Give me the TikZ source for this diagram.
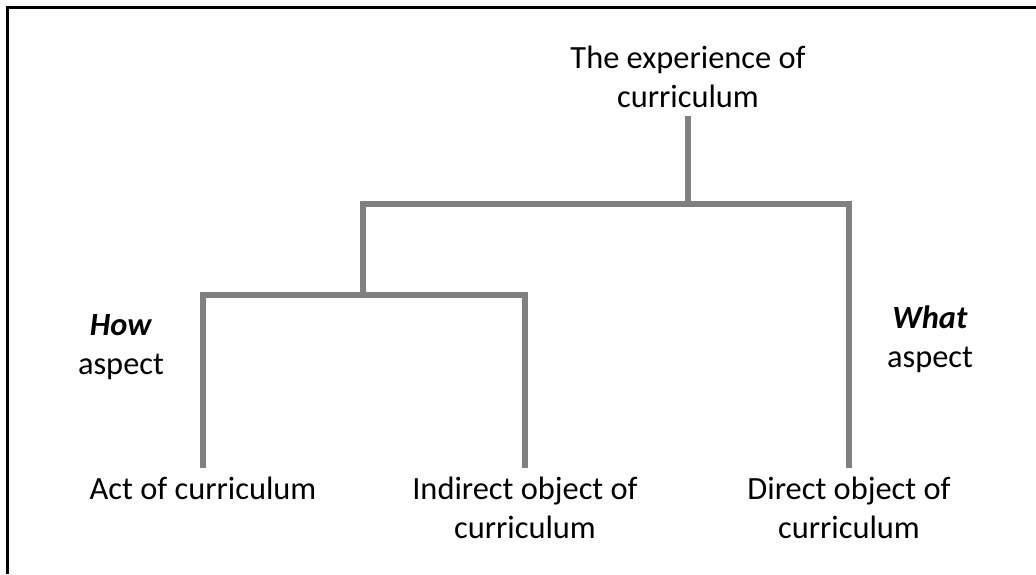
\documentclass[tikz,border=0pt]{standalone}
\usepackage{fontspec}
\setmainfont{Carlito}
\usepackage{tikz}
\usetikzlibrary{calc}

\begin{document}
\begin{tikzpicture}[line cap=butt,line join=miter,x=1pt,y=-1pt,
    lbl/.style={align=center, inner sep=0pt, outer sep=9pt, anchor=base, font=\fontsize{32.4}{39}\selectfont},
    branch/.style={draw=black!50, line width=5.5pt},
    frame/.style={draw=black, line width=2.5pt}]
    \useasboundingbox (0,0) rectangle (1036,574);
    \draw [frame] (7.7,574) -- (7.7,7.7) -- (1036,7.7);

    \node[lbl] (exp) at (688,107) {The experience of\\curriculum};
    \node[lbl] (act) at (203,499) {Act of curriculum};
    \node[lbl] (ind) at (525,538) {Indirect object of\\curriculum};
    \node[lbl] (dir) at (849,538) {Direct object of\\curriculum};

    \node[lbl] (how) at (121,374) {\textbf{\textit{How}}\\aspect};
    \node[lbl] (what) at (930,367) {\textbf{\textit{What}}\\aspect};

    \coordinate (hub) at (688,204);
    \coordinate (mid) at (363,295);

    \draw [branch] (exp) -- (hub);
    \draw [branch] (mid) -- (mid |- hub) -| (dir);
    \draw [branch] (act) -- (act |- mid) -| (ind);
\end{tikzpicture}
\end{document}
